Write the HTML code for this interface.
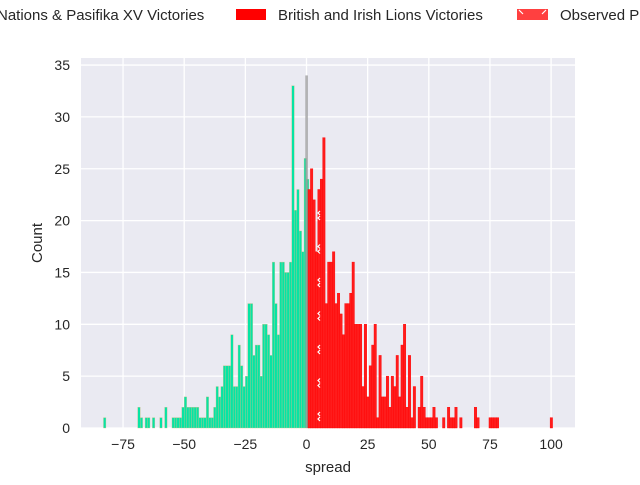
<!DOCTYPE html>
<html><head><meta charset="utf-8"><style>
body{margin:0;background:#fff;width:640px;height:480px;overflow:hidden;font-family:"Liberation Sans",Arial,sans-serif}
svg text{font-family:"Liberation Sans",Arial,sans-serif;fill:#262626}
</style></head><body>
<svg id="chart" width="640" height="480" xmlns="http://www.w3.org/2000/svg">
<rect x="81" y="58" width="494" height="370" fill="#eaeaf2"/>
<g id="grid"></g>
<g id="bars"></g>
<g id="ticks"></g>
<text x="328" y="472" font-size="15" text-anchor="middle">spread</text>
<text transform="translate(42,243) rotate(-90)" font-size="15" text-anchor="middle">Count</text>
<g>
<g>
<text x="-3" y="20" font-size="15">Nations &amp; Pasifika XV Victories</text></g>
<g>
<rect x="236" y="9" width="30" height="11" fill="#ff0000"/>
<text x="278" y="20" font-size="15">British and Irish Lions Victories</text></g>
<g>
<rect x="517" y="9" width="31" height="11" fill="#ff4040"/>
<path d="M519 10 l4 4 M546 10 l-4 4" stroke="#fff" stroke-width="1.2"/>
<text x="560" y="20" font-size="15">Observed P</text></g>
</g>
</svg>
<script>
const xTicks=[-75,-50,-25,0,25,50,75,100];
const yTicks=[0,5,10,15,20,25,30,35];
const greenStart=-83;
const greenCounts=[1,0,0,0,0,0,0,0,0,0,0,0,0,0,2,1,0,1,1,0,1,0,0,1,0,2,0,0,1,1,1,1,2,3,2,2,2,2,2,1,1,1,3,1,1,
2,4,3,4,6,6,6,9,4,4,8,6,4,5,12,12,7,8,8,5,10,10,9,7,16,12,9,16,16,15,15,16,33,21,23,19,17,26,24];
const redStart=0.6;
const redCounts=[23,25,22,17,23,24,28,12,16,16,17,12,13,11,9,12,12,13,16,10,10,10,4,10,3,6,8,10,1,7,3,3,5,2,5,4,7,3,
8,10,2,7,1,4,0,2,5,2,1,1,1,2,1,0,0,1,0,2,1,1,2,0,1,0,0,0,0,0,2,1,0,0,0,0,1,1,1,1,
0,0,0,0,0,0,0,0,0,0,0,0,0,0,0,0,0,0,0,0,0,1];
const observedSpread=0;
const observedCount=34;
const NS="http://www.w3.org/2000/svg";
const X=v=>306.5+v*2.446;
const Y=v=>428-v*10.37;
function mk(tag,attrs,parent){const e=document.createElementNS(NS,tag);for(const k in attrs)e.setAttribute(k,attrs[k]);parent.appendChild(e);return e;}
const grid=document.getElementById('grid'),bars=document.getElementById('bars'),ticks=document.getElementById('ticks');
yTicks.forEach(t=>{
 const l=mk('line',{x1:81,x2:575,y1:Y(t),y2:Y(t),stroke:'#fff','stroke-width':1.3},grid);
 
 
 const tx=mk('text',{x:70,y:Y(t)+5,'font-size':14,'text-anchor':'end'},ticks);tx.textContent=t;
 
 
});
xTicks.forEach(t=>{
 const l=mk('line',{x1:X(t),x2:X(t),y1:58,y2:428,stroke:'#fff','stroke-width':1.3},grid);
 
 
 const tx=mk('text',{x:X(t),y:449,'font-size':14,'text-anchor':'middle'},ticks);tx.textContent=(t<0?'\u2212'+(-t):t);
 
 
});
const bw=2.446;
greenCounts.forEach((c,i)=>{ if(!c)return;
 const x=X(greenStart+i);
 const r=mk('rect',{x:x,y:Y(c),width:bw,height:Y(0)-Y(c),fill:'#06e4a4',stroke:'#cbbf8a','stroke-width':0.35},bars);
 
 
});
const ob=mk('rect',{x:X(observedSpread)-1.2,y:Y(observedCount),width:2.6,height:Y(0)-Y(observedCount),fill:'#9a9a9a','fill-opacity':0.75},bars);


redCounts.forEach((c,i)=>{ if(!c)return;
 const x=X(redStart+i);
 const r=mk('rect',{x:x,y:Y(c),width:bw,height:Y(0)-Y(c),fill:'#ff1c1c',stroke:'#ff0000','stroke-width':0.4},bars);
 
 
});
for(let k=0;k<7;k++){
 const y=416-k*33.5;
 const h=mk('path',{d:`M320 ${y-4} l-2 2 l2 2 M320 ${y+1} l-2 2 l2 2`,stroke:'#fff','stroke-width':1.2,fill:'none'},bars);
 
 
}
</script>
</body></html>
